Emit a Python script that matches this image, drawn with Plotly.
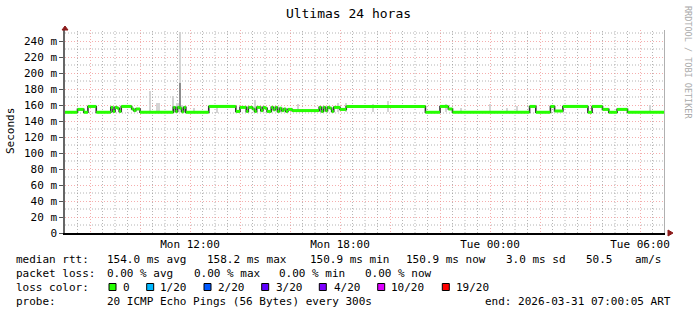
import plotly.graph_objects as go
import pandas as pd

TITLE = "Ultimas 24 horas"
START = "2026-03-30 07:00"
END = "2026-03-31 07:00"

# median rtt (ms) as step changes: start time of each step and its value
STEP_TIMES = [
    "2026-03-30 07:00", "2026-03-30 07:30", "2026-03-30 07:45", "2026-03-30 07:55",
    "2026-03-30 08:15", "2026-03-30 08:50", "2026-03-30 08:55", "2026-03-30 09:00",
    "2026-03-30 09:05", "2026-03-30 09:10", "2026-03-30 09:15", "2026-03-30 09:40",
    "2026-03-30 09:45", "2026-03-30 09:50", "2026-03-30 10:00", "2026-03-30 11:20",
    "2026-03-30 11:25", "2026-03-30 11:30", "2026-03-30 11:35", "2026-03-30 11:40",
    "2026-03-30 11:45", "2026-03-30 11:50", "2026-03-30 12:45", "2026-03-30 13:50",
    "2026-03-30 14:00", "2026-03-30 14:15", "2026-03-30 14:20", "2026-03-30 14:30",
    "2026-03-30 14:35", "2026-03-30 14:40", "2026-03-30 14:50", "2026-03-30 14:55",
    "2026-03-30 15:00", "2026-03-30 15:05", "2026-03-30 15:15", "2026-03-30 15:20",
    "2026-03-30 15:25", "2026-03-30 15:30", "2026-03-30 15:35", "2026-03-30 15:40",
    "2026-03-30 15:45", "2026-03-30 15:50", "2026-03-30 15:55", "2026-03-30 16:05",
    "2026-03-30 17:10", "2026-03-30 17:15", "2026-03-30 17:20", "2026-03-30 17:25",
    "2026-03-30 17:30", "2026-03-30 17:35", "2026-03-30 17:40", "2026-03-30 17:45",
    "2026-03-30 18:00", "2026-03-30 18:15", "2026-03-30 21:25", "2026-03-30 22:00",
    "2026-03-30 22:20", "2026-03-30 22:30", "2026-03-31 01:35", "2026-03-31 01:50",
    "2026-03-31 02:25", "2026-03-31 02:35", "2026-03-31 02:55", "2026-03-31 03:55",
    "2026-03-31 04:05", "2026-03-31 04:30", "2026-03-31 04:45", "2026-03-31 05:05",
    "2026-03-31 05:30",
]
MEDIAN_MS = [
    150.9, 154.5, 150.9, 158.2,
    150.9, 157.0, 152.0, 157.0,
    156.0, 152.0, 158.2, 155.0,
    153.0, 155.0, 150.9, 157.0,
    152.0, 157.0, 156.0, 151.5,
    157.0, 150.9, 158.2, 152.0,
    157.0, 152.0, 157.0, 155.0,
    152.0, 157.0, 153.0, 157.0,
    156.0, 152.0, 157.0, 154.0,
    157.0, 152.0, 156.0, 153.0,
    155.0, 152.0, 154.5, 153.0,
    157.0, 152.0, 157.0, 153.0,
    157.0, 156.0, 152.0, 157.0,
    154.5, 158.2, 150.9, 158.2,
    155.0, 150.9, 158.2, 150.9,
    158.2, 152.5, 158.2, 150.9,
    158.2, 154.5, 150.9, 154.5,
    150.9,
]

# smoke (spread of the 20 pings) for intervals with visible scatter
SMOKE_TIMES = [
    "2026-03-30 10:25", "2026-03-30 10:40", "2026-03-30 10:45", "2026-03-30 11:20",
    "2026-03-30 11:30", "2026-03-30 11:35", "2026-03-30 11:40", "2026-03-30 12:10",
    "2026-03-30 13:05", "2026-03-30 14:35", "2026-03-30 16:20", "2026-03-30 17:55",
    "2026-03-30 18:15", "2026-03-30 19:20", "2026-03-30 19:55", "2026-03-30 22:15",
    "2026-03-30 22:50", "2026-03-30 23:40", "2026-03-31 00:00", "2026-03-31 00:40",
    "2026-03-31 01:05", "2026-03-31 06:25",
]
SMOKE_LO = [151, 151, 151, 151, 151, 151, 151, 151, 150, 151, 151, 151,
            151, 151, 151, 151, 151, 151, 151, 151, 151, 151]
SMOKE_HI = [178, 163, 162, 171, 163, 251, 160, 156, 157, 166, 161, 162,
            162.5, 161, 165, 161, 156, 153, 161, 156, 159, 160]
# denser core of the tall spike
CORE_TIMES = ["2026-03-30 11:35"]
CORE_LO = [156]
CORE_HI = [188]

Y_TICKS = [0, 20, 40, 60, 80, 100, 120, 140, 160, 180, 200, 220, 240]
Y_TICK_LABELS = ["0", "20 m", "40 m", "60 m", "80 m", "100 m", "120 m", "140 m",
                 "160 m", "180 m", "200 m", "220 m", "240 m"]
X_LABEL_TIMES = ["2026-03-30 12:00", "2026-03-30 18:00", "2026-03-31 00:00", "2026-03-31 06:00"]
X_LABELS = ["Mon 12:00", "Mon 18:00", "Tue 00:00", "Tue 06:00"]

LOSS_LABELS = ["0", "1/20", "2/20", "3/20", "4/20", "10/20", "19/20"]
LOSS_COLORS = ["#26ff00", "#00b8ff", "#0059ff", "#5e00ff", "#7e00ff", "#dd00ff", "#ff0000"]

FONT = "DejaVu Sans Mono"
W, H = 697, 315
L, R, T, B = 65, 32, 30, 82
Y_TOP = 253.75

fig = go.Figure()

# smoke bars
bw = 300000
fig.add_trace(go.Bar(
    x=pd.to_datetime(SMOKE_TIMES), base=SMOKE_LO,
    y=[h - l for h, l in zip(SMOKE_HI, SMOKE_LO)],
    width=bw, marker=dict(color="#d4d4d4", line=dict(width=0)),
    hoverinfo="skip", showlegend=False))
fig.add_trace(go.Bar(
    x=pd.to_datetime(CORE_TIMES), base=CORE_LO,
    y=[h - l for h, l in zip(CORE_HI, CORE_LO)],
    width=bw, marker=dict(color="#8c8c8c", line=dict(width=0)),
    hoverinfo="skip", showlegend=False))

# dark step connectors
fig.add_trace(go.Scatter(
    x=STEP_TIMES + [END], y=MEDIAN_MS + [MEDIAN_MS[-1]],
    mode="lines", line=dict(color="#303030", width=1.6, shape="hv"),
    hoverinfo="skip", showlegend=False))

# green median bands (0 loss)
gx, gy = [], []
ends = STEP_TIMES[1:] + [END]
for t0, t1, v in zip(STEP_TIMES, ends, MEDIAN_MS):
    gx += [t0, t1, None]
    gy += [v, v, None]
fig.add_trace(go.Scatter(
    x=gx, y=gy, mode="lines", line=dict(color=LOSS_COLORS[0], width=3),
    hoverinfo="skip", showlegend=False))

grid_vals = pd.date_range("2026-03-30 08:00", END, freq="2h")
lab_map = dict(zip(pd.to_datetime(X_LABEL_TIMES), X_LABELS))
grid_text = [lab_map.get(t, "") for t in grid_vals]
minor_x = [t for t in pd.date_range(START, END, freq="30min")[1:-1] if t not in set(grid_vals)]
minor_y = [v for v in range(10, 260, 10) if v not in Y_TICKS]

RED = "rgba(240,130,130,0.65)"
GRAY = "rgba(150,150,150,0.7)"

# minor grid (gray dotted), drawn below the data
for t in minor_x:
    fig.add_shape(type="line", xref="x", yref="paper", x0=t, x1=t, y0=0, y1=1,
                  line=dict(color=GRAY, width=1, dash="1px,2px"), layer="below")
for v in minor_y:
    fig.add_shape(type="line", xref="paper", yref="y", x0=0, x1=1, y0=v, y1=v,
                  line=dict(color=GRAY, width=1, dash="1px,2px"), layer="below")

fig.update_layout(
    width=W, height=H, margin=dict(l=L, r=R, t=T, b=B),
    paper_bgcolor="white", plot_bgcolor="white",
    barmode="overlay", bargap=0,
    font=dict(family=FONT, size=11, color="black"),
    title=dict(text=TITLE, x=0.5, xref="container", xanchor="center",
               y=1 - 13 / H, yref="container", yanchor="middle",
               font=dict(family=FONT, size=13, color="black")),
    xaxis=dict(
        type="date", range=[START, END],
        tickmode="array", tickvals=grid_vals, ticktext=grid_text,
        showgrid=True, gridcolor=RED, griddash="1px,2px", gridwidth=1,
        ticks="", ticklen=0,
        showline=True, linecolor="black", linewidth=1.5,
        zeroline=False, fixedrange=True,
        tickfont=dict(family=FONT, size=11, color="black"),
    ),
    yaxis=dict(
        range=[0, Y_TOP], tickmode="array", tickvals=Y_TICKS, ticktext=Y_TICK_LABELS,
        showgrid=True, gridcolor=RED, griddash="1px,2px", gridwidth=1,
        ticks="outside", ticklen=4, tickcolor="#555",
        showline=True, linecolor="#666", linewidth=1.5,
        zeroline=False, fixedrange=True,
        tickfont=dict(family=FONT, size=11, color="black"),
    ),
)

# right end marker
fig.add_shape(type="line", xref="x", yref="paper", x0=END, x1=END, y0=0, y1=1,
              line=dict(color="#b0b0b0", width=2), layer="above")

# axis arrows
fig.add_shape(type="path", xref="paper", yref="paper", xsizemode="pixel", ysizemode="pixel",
              xanchor=0, yanchor=1, path="M -3,0 L 3,0 L 0,4 Z",
              fillcolor="#8b1a1a", line=dict(color="#8b1a1a", width=1))
fig.add_shape(type="path", xref="paper", yref="paper", xsizemode="pixel", ysizemode="pixel",
              xanchor=1, yanchor=0, path="M 3,-3 L 3,3 L 8,0 Z",
              fillcolor="#8b1a1a", line=dict(color="#8b1a1a", width=1))


def px(x):
    return (x - L) / (W - L - R)


def py(y):
    return (H - B - y) / (H - T - B)


def txt(x, y, s, **kw):
    fig.add_annotation(x=px(x), y=py(y), xref="paper", yref="paper", text=s,
                       showarrow=False, xanchor=kw.pop("xanchor", "left"),
                       yanchor="middle", borderpad=0,
                       font=dict(family=FONT, size=kw.pop("size", 11),
                                 color=kw.pop("color", "black")), **kw)


txt(10, 131, "Seconds", textangle=-90, xanchor="center")
txt(688, 62, "RRDTOOL / TOBI OETIKER", textangle=90, xanchor="center", size=8.5, color="#aaaaaa")

r1, r2, r3, r4 = 259, 273, 287, 301
dx = -1.5
txt(16.7 + dx, r1, "median rtt:")
for x, s in zip([107.3, 207.3, 310, 406.7, 506.7, 586.7, 635],
                ["154.0 ms avg", "158.2 ms max", "150.9 ms min", "150.9 ms now",
                 "3.0 ms sd", "50.5", "am/s"]):
    txt(x + dx, r1, s)
txt(16.7 + dx, r2, "packet loss:")
for x, s in zip([107.3, 194, 279.3, 365],
                ["0.00 % avg", "0.00 % max", "0.00 % min", "0.00 % now"]):
    txt(x + dx, r2, s)
txt(16.7 + dx, r3, "loss color:")
sq_x = [109, 146.7, 204, 261.7, 319.3, 377.7, 442.3]
lab_x = [123.3, 160, 218.3, 276.7, 334.3, 391.7, 456.7]
for x, lx, lab, col in zip(sq_x, lab_x, LOSS_LABELS, LOSS_COLORS):
    fig.add_shape(type="rect", xref="paper", yref="paper",
                  x0=px(x), x1=px(x + 7), y0=py(r3 + 3.5), y1=py(r3 - 3.5),
                  fillcolor=col, line=dict(color="black", width=1))
    txt(lx + dx, r3, lab)
txt(16.7 + dx, r4, "probe:")
txt(107.3 + dx, r4, "20 ICMP Echo Pings (56 Bytes) every 300s")
txt(485.7 + dx, r4, "end: 2026-03-31 07:00:05 ART")

fig.write_html("out.html")
